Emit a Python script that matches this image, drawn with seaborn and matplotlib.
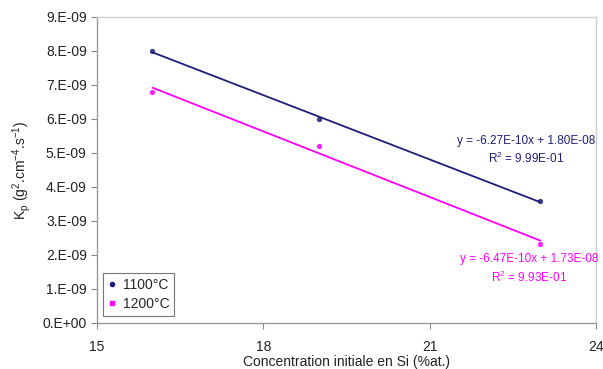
import matplotlib
matplotlib.use("Agg")
import matplotlib.pyplot as plt
import matplotlib.ticker as mticker
import pandas as pd
import seaborn as sns

# ===== DATA =====
si_conc = [16, 19, 23]
kp_1100 = [8.0e-9, 6.0e-9, 3.58e-9]
kp_1200 = [6.8e-9, 5.2e-9, 2.33e-9]
series_names = ["1100°C", "1200°C"]
series_colors = ["#1E1E7A", "#FF00FF"]
eq_texts = [("y = -6.27E-10x + 1.80E-08", "R$^2$ = 9.99E-01"),
            ("y = -6.47E-10x + 1.73E-08", "R$^2$ = 9.93E-01")]

df = pd.DataFrame({
    "x": si_conc * 2,
    "kp": kp_1100 + kp_1200,
    "temp": [series_names[0]] * 3 + [series_names[1]] * 3,
})

sns.set_style("white")
plt.rcParams["font.family"] = ["Liberation Sans", "DejaVu Sans"]
plt.rcParams["mathtext.default"] = "regular"

fig = plt.figure(figsize=(6.03, 3.69), dpi=100)
ax = fig.add_axes([0.161, 0.125, 0.827, 0.829])

for name, col in zip(series_names, series_colors):
    sub = df[df["temp"] == name]
    sns.regplot(data=sub, x="x", y="kp", ax=ax, ci=None, color=col,
                scatter_kws={"s": 8, "marker": "s" if name == "1200°C" else "o"},
                line_kws={"lw": 1.3}, label=name)

ax.set_xlim(15, 24)
ax.set_ylim(0, 9e-9)
ax.set_xticks([15, 18, 21, 24])
ax.set_yticks([i * 1e-9 for i in range(10)])
ax.yaxis.set_major_formatter(mticker.FuncFormatter(lambda v, p: "%#.0E" % v))
ax.tick_params(axis="both", labelsize=10, colors="#888888", length=4,
               direction="out", left=True, bottom=True, width=0.8)
ax.tick_params(axis="both", labelcolor="#222222")
ax.tick_params(axis="x", pad=8)
for s in ax.spines.values():
    s.set_color("#9A9A9A")
    s.set_linewidth(1.0)
ax.spines["top"].set_color("#D0D0D0")
ax.spines["right"].set_color("#D0D0D0")

ax.set_xlabel("Concentration initiale en Si (%at.)", fontsize=10, color="#222222", labelpad=1)
ax.set_ylabel("K$_p$ (g$^2$.cm$^{-4}$.s$^{-1}$)", fontsize=10, color="#222222", labelpad=7)

# trendline equations
ax.text(22.75, 5.35e-9, eq_texts[0][0], color=series_colors[0], fontsize=8.5,
        ha="center", va="center")
ax.text(22.75, 4.83e-9, eq_texts[0][1], color=series_colors[0], fontsize=8.5,
        ha="center", va="center")
ax.text(22.8, 1.88e-9, eq_texts[1][0], color=series_colors[1], fontsize=8.5,
        ha="center", va="center")
ax.text(22.8, 1.35e-9, eq_texts[1][1], color=series_colors[1], fontsize=8.5,
        ha="center", va="center")

handles = [plt.Line2D([], [], ls="none", marker=m, ms=3, color=c)
           for m, c in zip(["o", "s"], series_colors)]
leg = ax.legend(handles, series_names, loc="lower left", bbox_to_anchor=(-0.003, 0.0),
                fontsize=10, frameon=True, fancybox=False, handlelength=0.6,
                handletextpad=0.5, borderpad=0.35, labelspacing=0.4)
leg.get_frame().set_edgecolor("#555555")
leg.get_frame().set_linewidth(0.8)

fig.savefig("out.png", dpi=100)
